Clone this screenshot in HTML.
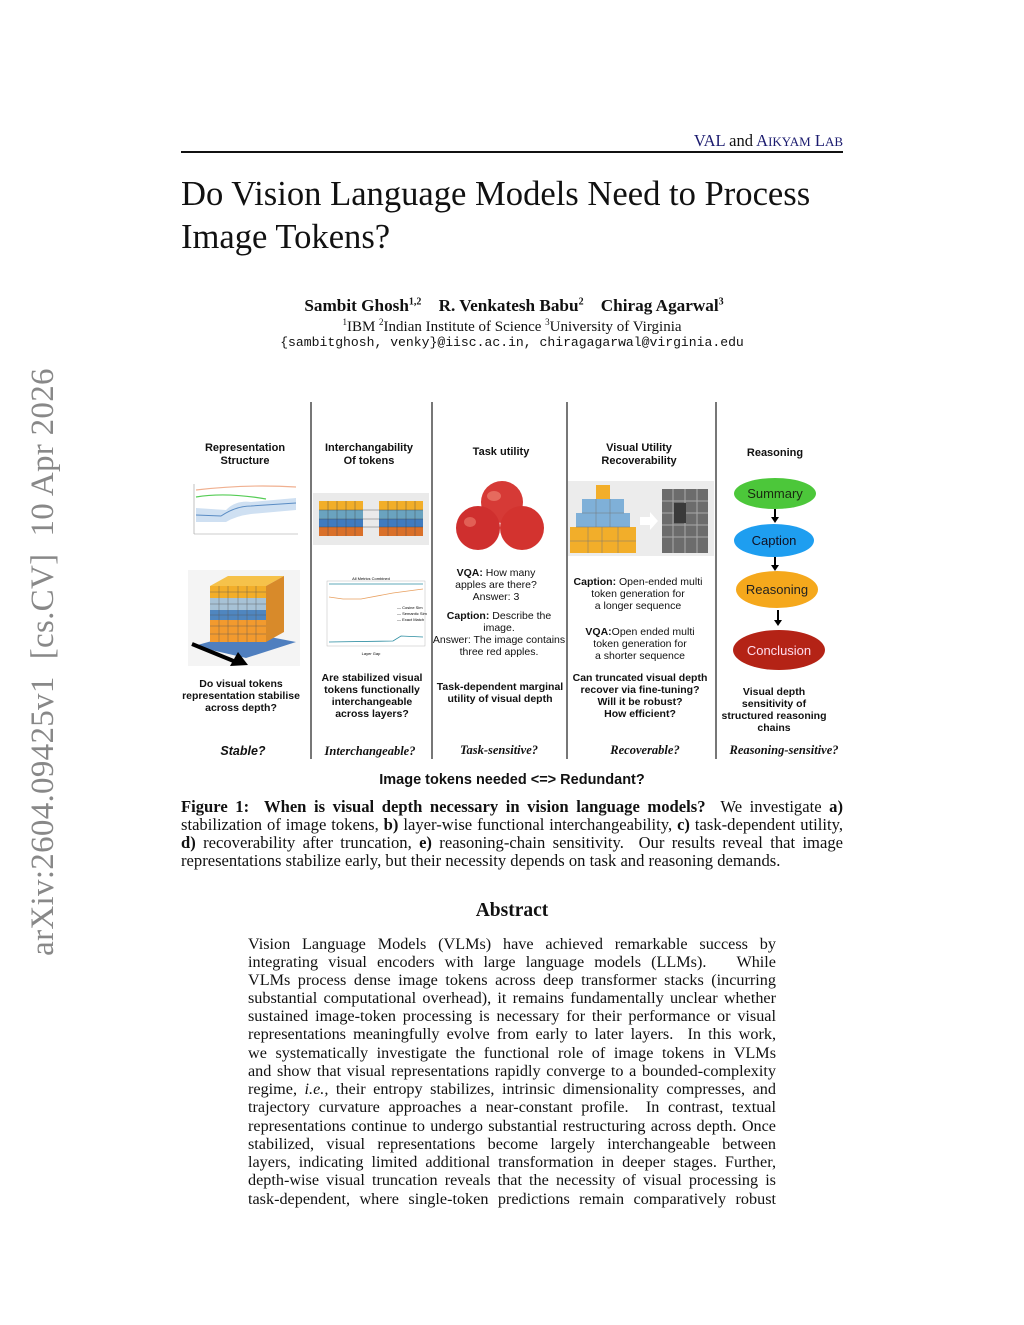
<!DOCTYPE html>
<html><head><meta charset="utf-8"><style>
body{margin:0;width:1024px;height:1325px;background:#fff;position:relative;overflow:hidden;font-family:"Liberation Serif",serif;color:#111}
.a{position:absolute;white-space:nowrap}
.j{position:absolute;left:181px;width:662px;text-align:justify;text-align-last:justify;white-space:nowrap;font-size:16.6px;line-height:18px}
.jl{text-align-last:left}
.ab{position:absolute;left:248px;width:528px;text-align:justify;text-align-last:justify;white-space:nowrap;font-size:16.2px;line-height:18px}
.s{font-family:"Liberation Sans",sans-serif}
.c{text-align:center;transform:translateX(-50%)}
.vl{position:absolute;top:402px;height:357px;width:1.5px;background:#777}
.ft{font-family:"Liberation Sans",sans-serif;font-size:11px;line-height:13px;text-align:center;position:absolute;transform:translateX(-50%);white-space:nowrap}
.b{font-weight:bold}
.ov{position:absolute;border-radius:50%;font-family:"Liberation Sans",sans-serif;font-size:13px;display:flex;align-items:center;justify-content:center}
.ar{position:absolute;width:1.5px;background:#000}
.ar:after{content:"";position:absolute;left:-3.5px;bottom:-2px;border-left:4px solid transparent;border-right:4px solid transparent;border-top:6px solid #000}
</style></head><body>
<div class="a" style="font-size:33px;color:#888;letter-spacing:0.3px;text-align:center;line-height:34px;left:43px;top:662px;transform:translate(-50%,-50%) rotate(-90deg)">arXiv:2604.09425v1&nbsp; [cs.CV]&nbsp; 10 Apr 2026</div>

<div class="a" style="right:181px;top:131px;font-size:16.5px;color:#1a1a6e">VAL <span style="color:#111">and</span> A<span style="font-size:13px">IKYAM</span> L<span style="font-size:13px">AB</span></div>
<div class="a" style="left:181px;top:151px;width:662px;height:2px;background:#111"></div>
<div class="a" style="left:181px;top:173px;font-size:34.6px;line-height:43px">Do Vision Language Models Need to Process<br>Image Tokens?</div>

<div class="a c" style="left:514px;top:296px;font-size:17.2px;font-weight:bold">Sambit Ghosh<sup style="font-size:10px">1,2</sup>&nbsp;&nbsp;&nbsp; R. Venkatesh Babu<sup style="font-size:10px">2</sup>&nbsp;&nbsp;&nbsp; Chirag Agarwal<sup style="font-size:10px">3</sup></div>
<div class="a c" style="left:512px;top:317px;font-size:15px"><sup style="font-size:9px">1</sup>IBM <sup style="font-size:9px">2</sup>Indian Institute of Science <sup style="font-size:9px">3</sup>University of Virginia</div>
<div class="a c" style="left:512px;top:335px;font-size:13.1px;font-family:'Liberation Mono',monospace">{sambitghosh, venky}@iisc.ac.in, chiragagarwal@virginia.edu</div>

<div class="vl" style="left:310px"></div><div class="vl" style="left:431px"></div><div class="vl" style="left:566px"></div><div class="vl" style="left:715px"></div>

<div class="ft b" style="left:245px;top:442px">Representation<br>Structure</div>
<div class="ft b" style="left:369px;top:442px">Interchangability<br>Of tokens</div>
<div class="ft b" style="left:501px;top:446px">Task utility</div>
<div class="ft b" style="left:639px;top:442px">Visual Utility<br>Recoverability</div>
<div class="ft b" style="left:775px;top:447px">Reasoning</div>

<svg class="a" style="left:186px;top:482px" width="114" height="62"><line x1="8" y1="2" x2="8" y2="52" stroke="#999" stroke-width=".6"/><line x1="8" y1="52" x2="112" y2="52" stroke="#999" stroke-width=".6"/>
<path d="M10 8 Q60 2 110 5" stroke="#f0b090" fill="none" stroke-width="1.2"/><path d="M10 15 Q40 10 80 17" stroke="#5c5" fill="none" stroke-width="1.2"/>
<path d="M10 26 L40 28 Q50 18 65 20 L110 16 L110 28 L65 32 Q50 34 40 40 L10 40Z" fill="#cfe0f2"/><path d="M10 33 L35 34 Q50 24 65 24 L110 21" stroke="#5a8cc4" fill="none" stroke-width="1"/></svg>
<svg class="a" style="left:188px;top:570px" width="112" height="96"><rect width="112" height="96" fill="#f4f4f4"/>
<polygon points="6,76 56,62 108,72 58,88" fill="#4f7fbf"/>
<rect x="22" y="16" width="56" height="12" fill="#f2ae2a"/><rect x="22" y="28" width="56" height="12" fill="#a7c2d6"/><rect x="22" y="40" width="56" height="10" fill="#4f86c0"/><rect x="22" y="50" width="56" height="22" fill="#f29a2e"/>
<polygon points="22,16 40,6 96,6 78,16" fill="#f6c24a"/><polygon points="78,16 96,6 96,62 78,72" fill="#d88a2a"/>
<path d="M22 22H78M22 34H78M22 45H78M22 56H78M22 64H78M31 16V72M40 16V72M50 16V72M59 16V72M68 16V72" stroke="#555" stroke-width=".4"/>
<line x1="4" y1="74" x2="48" y2="92" stroke="#000" stroke-width="4"/><polygon points="60,95 42,96 50,82" fill="#000"/></svg>
<div class="ft b" style="left:241px;top:678px;font-size:10.5px;line-height:12px">Do visual tokens<br>representation stabilise<br>across depth?</div>
<div class="ft b" style="left:243px;top:745px;font-style:italic;font-size:12.5px">Stable?</div>

<svg class="a" style="left:313px;top:493px" width="116" height="52"><rect width="116" height="52" fill="#eaeaea"/>
<g><rect x="6" y="8" width="44" height="9" fill="#f2ae2a"/><rect x="6" y="17" width="44" height="9" fill="#6aa3bf"/><rect x="6" y="26" width="44" height="8" fill="#3f7bbf"/><rect x="6" y="34" width="44" height="9" fill="#d9702a"/></g>
<g><rect x="66" y="8" width="44" height="9" fill="#f2ae2a"/><rect x="66" y="17" width="44" height="9" fill="#6aa3bf"/><rect x="66" y="26" width="44" height="8" fill="#3f7bbf"/><rect x="66" y="34" width="44" height="9" fill="#d9702a"/></g>
<path d="M6 17H110M6 26H110M6 34H110M15 8V43M24 8V43M33 8V43M42 8V43M75 8V43M84 8V43M93 8V43M102 8V43" stroke="#444" stroke-width=".4"/></svg>
<svg class="a" style="left:313px;top:575px" width="116" height="85"><text x="58" y="5" font-size="4" text-anchor="middle" font-family="Liberation Sans">All Metrics Combined</text>
<rect x="14" y="6" width="98" height="65" fill="none" stroke="#bbb" stroke-width=".5"/>
<line x1="16" y1="9" x2="110" y2="9" stroke="#2a8ca0" stroke-width=".8"/><path d="M16 22 L30 24 L48 24 L80 18 L110 14" stroke="#e8a060" fill="none" stroke-width=".8"/><path d="M16 67 L80 66 L88 61 L110 62" stroke="#2a8ca0" fill="none" stroke-width=".8"/>
<text x="84" y="34" font-size="4" font-family="Liberation Sans">— Cosine Sim</text><text x="84" y="40" font-size="4" font-family="Liberation Sans">— Semantic Sim</text><text x="84" y="46" font-size="4" font-family="Liberation Sans">— Exact Match</text>
<text x="58" y="80" font-size="4" text-anchor="middle" font-family="Liberation Sans">Layer Gap</text></svg>
<div class="ft b" style="left:372px;top:672px;font-size:10.5px;line-height:12px">Are stabilized visual<br>tokens functionally<br>interchangeable<br>across layers?</div>
<div class="ft" style="left:370px;top:745px;font-family:'Liberation Serif',serif;font-style:italic;font-weight:bold;font-size:12.5px">Interchangeable?</div>

<svg class="a" style="left:450px;top:478px" width="100" height="76">
<circle cx="52" cy="24" r="21" fill="#d63a36"/><circle cx="28" cy="50" r="22" fill="#cf2f2e"/><circle cx="72" cy="50" r="22" fill="#d3332f"/>
<ellipse cx="44" cy="18" rx="7" ry="5" fill="#f08a7a" opacity=".6"/><ellipse cx="20" cy="44" rx="6" ry="5" fill="#ee8070" opacity=".6"/></svg>
<div class="ft" style="left:496px;top:567px;font-size:10.5px;line-height:12px"><b>VQA:</b> How many<br>apples are there?<br>Answer: 3</div>
<div class="ft" style="left:499px;top:610px;font-size:10.5px;line-height:12px"><b>Caption:</b> Describe the<br>image.<br>Answer: The image contains<br>three red apples.</div>
<div class="ft b" style="left:500px;top:681px;font-size:10.5px;line-height:12px">Task-dependent marginal<br>utility of visual depth</div>
<div class="ft" style="left:499px;top:744px;font-family:'Liberation Serif',serif;font-style:italic;font-weight:bold;font-size:12.5px">Task-sensitive?</div>

<svg class="a" style="left:568px;top:481px" width="146" height="75"><rect width="146" height="75" fill="#ececec"/>
<rect x="28" y="4" width="14" height="14" fill="#f2ae2a"/><rect x="14" y="18" width="42" height="14" fill="#7fb0d8"/><rect x="8" y="32" width="54" height="14" fill="#7fb0d8"/><rect x="2" y="46" width="66" height="26" fill="#f2ae2a"/>
<path d="M14 32H56M8 46H62M2 60H68M28 18V46M42 18V46M20 46V72M34 46V72M50 46V72" stroke="#777" stroke-width=".5"/>
<polygon points="72,36 82,36 82,31 90,40 82,49 82,44 72,44" fill="#fff"/>
<rect x="94" y="8" width="46" height="64" fill="#6c6c6c"/><path d="M94 20H140M94 32H140M94 44H140M94 56H140M105 8V72M117 8V72M129 8V72" stroke="#aaa" stroke-width="1"/><rect x="106" y="22" width="12" height="20" fill="#3a3a3a"/></svg>
<div class="ft" style="left:638px;top:576px;font-size:10.5px;line-height:12px"><b>Caption:</b> Open-ended multi<br>token generation for<br>a longer sequence</div>
<div class="ft" style="left:640px;top:626px;font-size:10.5px;line-height:12px"><b>VQA:</b>Open ended multi<br>token generation for<br>a shorter sequence</div>
<div class="ft b" style="left:640px;top:672px;font-size:10.5px;line-height:12px">Can truncated visual depth<br>recover via fine-tuning?<br>Will it be robust?<br>How efficient?</div>
<div class="ft" style="left:645px;top:744px;font-family:'Liberation Serif',serif;font-style:italic;font-weight:bold;font-size:12.5px">Recoverable?</div>

<div class="ov" style="left:734px;top:478px;width:82px;height:31px;background:#4cc73a;color:#1a2a10">Summary</div>
<div class="ar" style="left:774px;top:509px;height:12px"></div>
<div class="ov" style="left:734px;top:524px;width:80px;height:33px;background:#1e9ef0;color:#112">Caption</div>
<div class="ar" style="left:774px;top:557px;height:12px"></div>
<div class="ov" style="left:736px;top:571px;width:82px;height:37px;background:#f5a81c;color:#222">Reasoning</div>
<div class="ar" style="left:777px;top:610px;height:14px"></div>
<div class="ov" style="left:733px;top:630px;width:92px;height:40px;background:#b42316;color:#fde">Conclusion</div>
<div class="ft b" style="left:774px;top:686px;font-size:10.5px;line-height:12px">Visual depth<br>sensitivity of<br>structured reasoning<br>chains</div>
<div class="ft" style="left:784px;top:744px;font-family:'Liberation Serif',serif;font-style:italic;font-weight:bold;font-size:12.5px">Reasoning-sensitive?</div>

<div class="a c s b" style="left:512px;top:772px;font-size:14.5px">Image tokens needed &lt;=&gt; Redundant?</div>

<div class="j" style="top:798px"><b>Figure 1:&nbsp; When is visual depth necessary in vision language models?</b>&nbsp; We investigate <b>a)</b></div>
<div class="j" style="top:816px">stabilization of image tokens, <b>b)</b> layer-wise functional interchangeability, <b>c)</b> task-dependent utility,</div>
<div class="j" style="top:834px"><b>d)</b> recoverability after truncation, <b>e)</b> reasoning-chain sensitivity.&nbsp; Our results reveal that image</div>
<div class="j jl" style="top:852px">representations stabilize early, but their necessity depends on task and reasoning demands.</div>

<div class="a c b" style="left:512px;top:900px;font-size:19.5px">Abstract</div>
<div class="ab" style="top:935px">Vision Language Models (VLMs) have achieved remarkable success by</div>
<div class="ab" style="top:953px">integrating visual encoders with large language models (LLMs).&nbsp;&nbsp; While</div>
<div class="ab" style="top:971px">VLMs process dense image tokens across deep transformer stacks (incurring</div>
<div class="ab" style="top:989px">substantial computational overhead), it remains fundamentally unclear whether</div>
<div class="ab" style="top:1007px">sustained image-token processing is necessary for their performance or visual</div>
<div class="ab" style="top:1025px">representations meaningfully evolve from early to later layers.&nbsp; In this work,</div>
<div class="ab" style="top:1044px">we systematically investigate the functional role of image tokens in VLMs</div>
<div class="ab" style="top:1062px">and show that visual representations rapidly converge to a bounded-complexity</div>
<div class="ab" style="top:1080px">regime, <i>i.e.,</i> their entropy stabilizes, intrinsic dimensionality compresses, and</div>
<div class="ab" style="top:1098px">trajectory curvature approaches a near-constant profile.&nbsp; In contrast, textual</div>
<div class="ab" style="top:1117px">representations continue to undergo substantial restructuring across depth. Once</div>
<div class="ab" style="top:1135px">stabilized, visual representations become largely interchangeable between</div>
<div class="ab" style="top:1153px">layers, indicating limited additional transformation in deeper stages. Further,</div>
<div class="ab" style="top:1171px">depth-wise visual truncation reveals that the necessity of visual processing is</div>
<div class="ab" style="top:1190px">task-dependent, where single-token predictions remain comparatively robust</div>
</body></html>
